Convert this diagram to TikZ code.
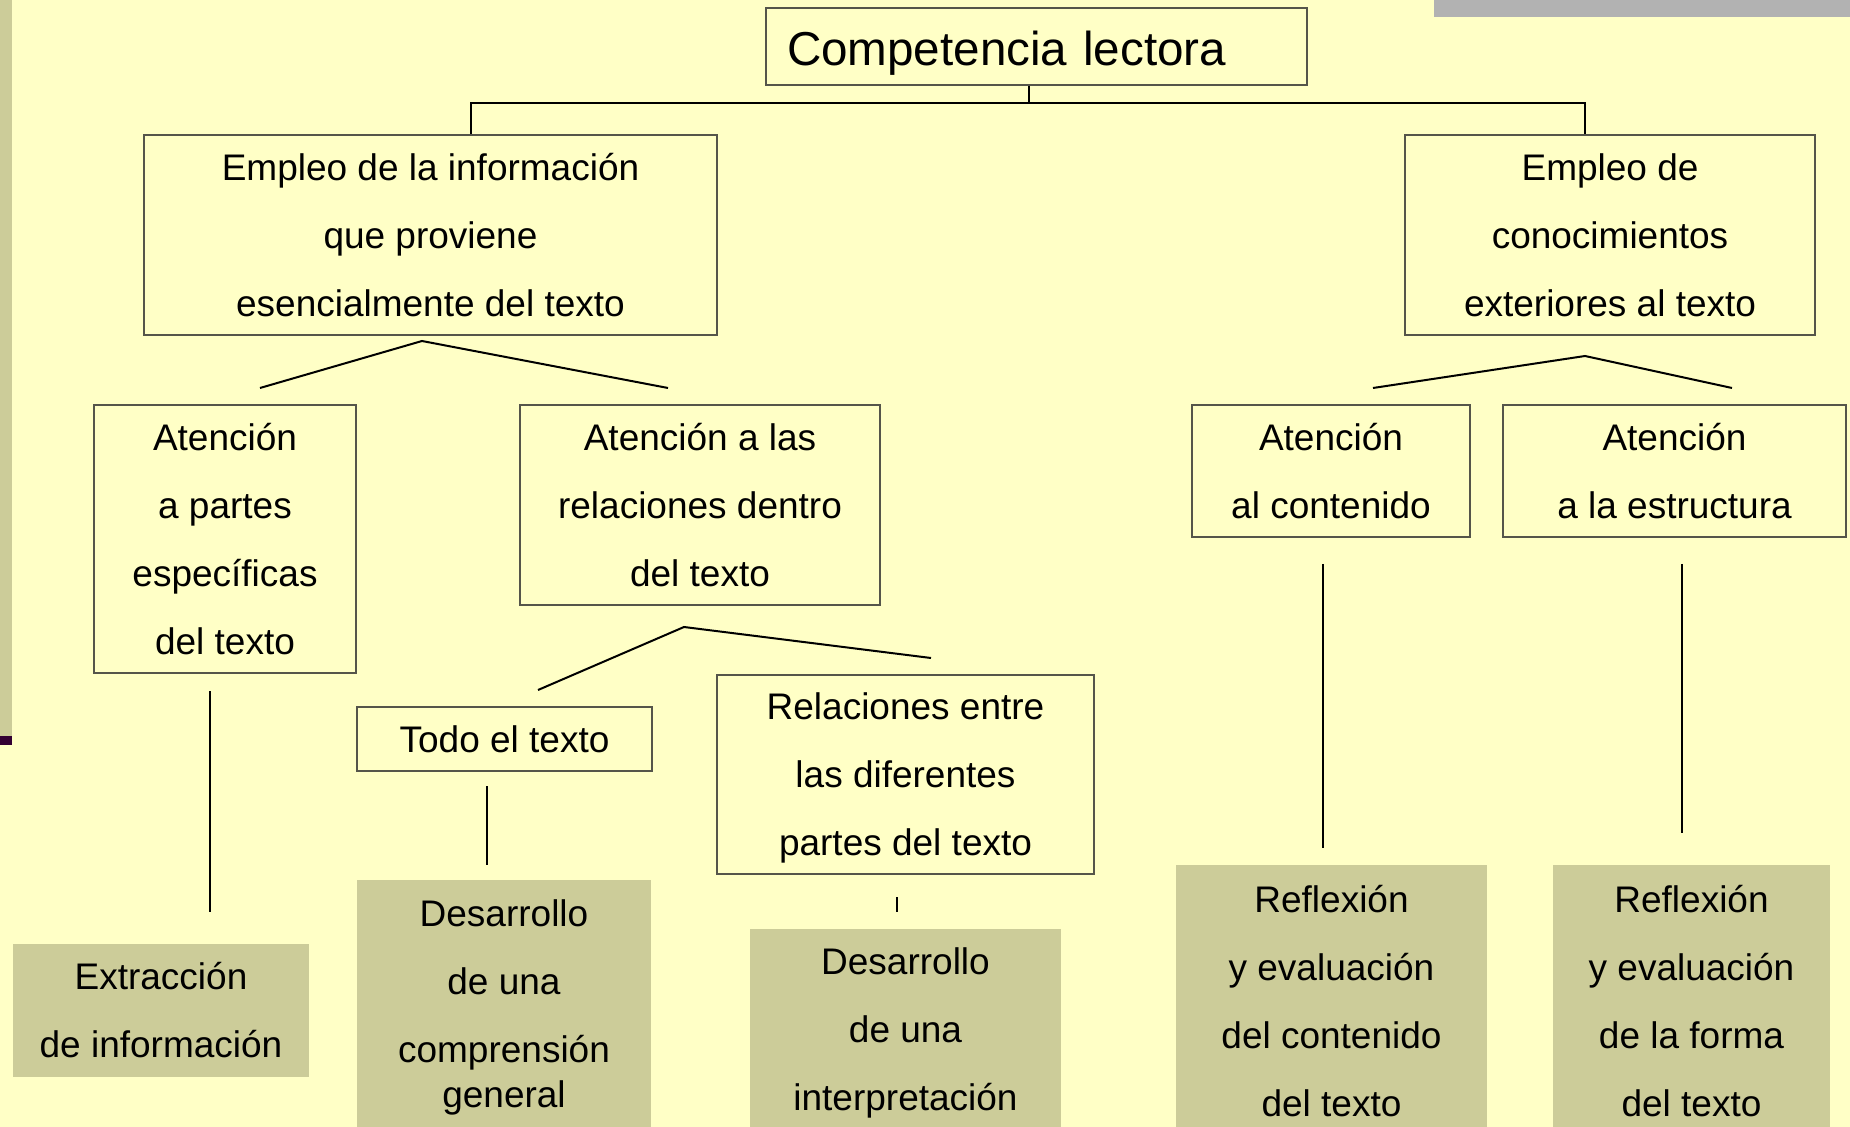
\documentclass[tikz,border=0pt]{standalone}
\usepackage{fontspec}
\setmainfont{Liberation Sans}
\definecolor{bgc}{HTML}{FFFFC6}
\definecolor{olive}{HTML}{CCCC99}
\definecolor{barg}{HTML}{B2B2B2}
\definecolor{purp}{HTML}{330033}
\definecolor{bord}{HTML}{55554A}
\tikzset{
  outline/.style={draw=bord, line width=0.75pt, align=center, inner sep=0pt,
    font=\fontsize{18.5pt}{34pt}\selectfont},
  filled/.style={fill=olive, draw=none, align=center, inner sep=0pt,
    font=\fontsize{18.5pt}{34pt}\selectfont},
  link/.style={draw=black, line width=1pt}
}
\begin{document}
\begin{tikzpicture}[x=0.5pt,y=-0.5pt]
\useasboundingbox (0,0) rectangle (1850,1127);
\clip (0,0) rectangle (1850,1127);
\fill[bgc] (0,0) rectangle (1850,1127);
\fill[olive] (0,0) rectangle (12,736);
\fill[purp] (0,736) rectangle (12,745);
\fill[barg] (1434,0) rectangle (1850,17);

% boxes
\node[outline, minimum width=270.5pt, minimum height=38.5pt, text width=249.5pt, align=left,
  text height=24pt, text depth=5pt,
  font=\fontsize{23.8pt}{28pt}\selectfont] (title) at (1036.5,46.5) {Competencia lectora};
\node[outline, text depth=-2pt, minimum width=286.5pt, minimum height=100pt] (emp1) at (430.5,235)
  {Empleo de la información\\que proviene\\esencialmente del texto};
\node[outline, text depth=-2pt, minimum width=205pt, minimum height=100pt] (emp2) at (1610,235)
  {Empleo de\\conocimientos\\exteriores al texto};
\node[outline, text depth=-1pt, minimum width=131pt, minimum height=134pt] (at1) at (225,539)
  {Atención\\a partes\\específicas\\del texto};
\node[outline, text depth=-1pt, minimum width=180pt, minimum height=100pt] (at2) at (700,505)
  {Atención a las\\relaciones dentro\\del texto};
\node[outline, text depth=-1pt, minimum width=139pt, minimum height=66pt] (at3) at (1331,471)
  {Atención\\al contenido};
\node[outline, text depth=-1pt, minimum width=171.5pt, minimum height=66pt] (at4) at (1674.5,471)
  {Atención\\a la estructura};
\node[outline, minimum width=147.5pt, minimum height=32pt] (todo) at (504.5,739)
  {Todo el texto};
\node[outline, text depth=-1pt, minimum width=188.5pt, minimum height=99.5pt] (rel) at (905.5,774.5)
  {Relaciones entre\\las diferentes\\partes del texto};

\node[filled, minimum width=148pt, minimum height=66.5pt] (ext) at (161,1010.5)
  {Extracción\\de información};
\node[filled, text depth=1.5pt, minimum width=147pt, minimum height=125pt] (des1) at (504,1005)
  {Desarrollo\\de una\\comprensión\\[-11.5pt]general};
\node[filled, text depth=0.5pt, minimum width=155.5pt, minimum height=101pt] (des2) at (905.5,1030)
  {Desarrollo\\de una\\interpretación};
\node[filled, minimum width=155.5pt, minimum height=136pt] (ref1) at (1331.5,1001)
  {Reflexión\\y evaluación\\del contenido\\del texto};
\node[filled, minimum width=138.5pt, minimum height=136pt] (ref2) at (1691.5,1001)
  {Reflexión\\y evaluación\\de la forma\\del texto};

% junction coordinates
\coordinate (tj) at (1029,103);
\coordinate (hl) at (471,103);
\coordinate (hr) at (1585,103);
\coordinate (p1) at (422,341);
\coordinate (p1a) at (260,388);
\coordinate (p1b) at (668,388);
\coordinate (p2) at (1585,356);
\coordinate (p2a) at (1373,388);
\coordinate (p2b) at (1732,388);
\coordinate (p3) at (684,627);
\coordinate (p3a) at (538,690);
\coordinate (p3b) at (931,658);
\coordinate (v1a) at (210,691);
\coordinate (v1b) at (210,912);
\coordinate (v2a) at (487,786);
\coordinate (v2b) at (487,865);
\coordinate (v3a) at (897,897);
\coordinate (v3b) at (897,912);
\coordinate (v4a) at (1323,564);
\coordinate (v4b) at (1323,848);
\coordinate (v5a) at (1682,564);
\coordinate (v5b) at (1682,833);

% connectors
\draw[link] (title.south -| tj) -- (tj);
\draw[link] (emp1.north -| hl) -- (hl) -- (hr) -- (emp2.north -| hr);
\draw[link] (p1a) -- (p1) -- (p1b);
\draw[link] (p2a) -- (p2) -- (p2b);
\draw[link] (p3a) -- (p3) -- (p3b);
\draw[link] (v1a) -- (v1b);
\draw[link] (v2a) -- (v2b);
\draw[link] (v3a) -- (v3b);
\draw[link] (v4a) -- (v4b);
\draw[link] (v5a) -- (v5b);
\end{tikzpicture}
\end{document}
